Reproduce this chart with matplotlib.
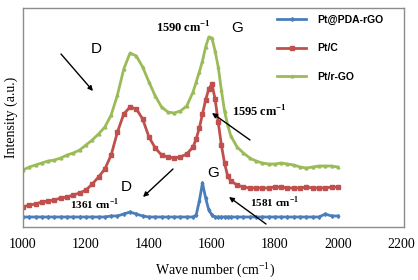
import matplotlib
matplotlib.use("Agg")
import matplotlib.pyplot as plt

plt.rcParams['mathtext.fontset'] = 'custom'
plt.rcParams['mathtext.rm'] = 'Liberation Serif'
plt.rcParams['mathtext.bf'] = 'Liberation Serif:bold'

wavenumber = [1000, 1020, 1040, 1060, 1080, 1100, 1120, 1140, 1160, 1180,
              1200, 1220, 1240, 1260, 1280, 1300, 1320, 1340, 1360, 1380,
              1400, 1420, 1440, 1460, 1480, 1500, 1520, 1540, 1550, 1560,
              1570, 1580, 1590, 1600, 1610, 1620, 1630, 1640, 1650, 1660,
              1680, 1700, 1720, 1740, 1760, 1780, 1800, 1820, 1840, 1860,
              1880, 1900, 1920, 1940, 1960, 1980, 2000]

pt_pda_rgo = [10, 10, 10, 10, 10, 10, 10, 10, 10, 10,
              10, 10, 10, 10, 11, 11, 13, 15, 13, 11,
              10, 10, 10, 10, 10, 10, 10, 10, 12, 26,
              44, 29, 17, 12, 10, 10, 10, 10, 10, 10,
              10, 10, 10, 10, 10, 10, 10, 10, 10, 10,
              10, 10, 10, 10, 13, 11, 11]

pt_c = [20, 22, 23, 25, 26, 27, 29, 30, 32, 34,
        37, 43, 50, 58, 72, 95, 113, 120, 118, 108,
        90, 79, 72, 70, 69, 70, 73, 80, 88, 99,
        113, 127, 138, 143, 128, 105, 82, 64, 51, 46,
        42, 40, 39, 39, 39, 39, 40, 40, 39, 39,
        39, 40, 39, 39, 39, 40, 40]

pt_rgo = [57, 60, 62, 64, 66, 67, 69, 72, 74, 77,
          82, 87, 93, 100, 112, 132, 158, 174, 171, 160,
          145, 131, 120, 115, 114, 116, 121, 135, 145, 155,
          166, 180, 190, 189, 176, 160, 137, 116, 102, 91,
          80, 74, 69, 66, 64, 63, 63, 64, 63, 62,
          60, 59, 60, 61, 61, 61, 60]

series_labels = ['Pt@PDA-rGO', 'Pt/C', 'Pt/r-GO']
x_ticks = [1000, 1200, 1400, 1600, 1800, 2000, 2200]

c_blue = '#4a7ebb'
c_red = '#c0504d'
c_green = '#9bbb59'

fig = plt.figure(figsize=(4.18, 2.80), dpi=100)
ax = fig.add_axes([23/418, 1-227/280, (404-23)/418, (227-8)/280])

ax.plot(wavenumber, pt_pda_rgo, color=c_blue, lw=2.0, marker='d', ms=2.0,
        label=series_labels[0])
ax.plot(wavenumber, pt_c, color=c_red, lw=2.0, marker='s', ms=2.8,
        label=series_labels[1])
ax.plot(wavenumber, pt_rgo, color=c_green, lw=2.0, marker='^', ms=2.0,
        label=series_labels[2])

ax.set_xlim(1000, 2210)
ax.set_ylim(0, 219)
ax.set_xticks(x_ticks)
ax.set_xticklabels([str(t) for t in x_ticks], fontfamily='Liberation Serif', fontsize=10)
ax.tick_params(axis='x', length=0, pad=8)
ax.set_yticks([])
for s in ax.spines.values():
    s.set_color('#8c8c8c')
    s.set_linewidth(1.0)

fig.text(215/418, 1-270/280, 'Wave number (cm$^{-1}$)', ha='center', va='center',
         fontfamily='Liberation Serif', fontsize=10)
fig.text(11/418, 1-117/280, 'Intensity (a.u.)', ha='center', va='center',
         rotation=90, fontfamily='Liberation Serif', fontsize=10)

def ftext(px, py, s, **kw):
    fig.text(px/418, 1-py/280, s, ha='center', va='center', **kw)

def farrow(x0, y0, x1, y1):
    ax.annotate('', xy=(x1/418, 1-y1/280), xytext=(x0/418, 1-y0/280),
                xycoords='figure fraction', textcoords='figure fraction',
                arrowprops=dict(arrowstyle='-|>', color='black', lw=1.0,
                                mutation_scale=7, shrinkA=0, shrinkB=0))

sans = 'Liberation Sans'
serif_bold = dict(fontfamily='Liberation Serif', fontweight='bold')

ftext(96, 49, 'D', fontfamily=sans, fontsize=11)
farrow(61, 54, 93, 91)
ftext(183, 28, r'1590 cm$^{\mathbf{-1}}$', fontsize=9, **serif_bold)
ftext(237, 28, 'G', fontfamily=sans, fontsize=11)
ftext(259, 112, r'1595 cm$^{\mathbf{-1}}$', fontsize=9, **serif_bold)
farrow(250, 140, 212, 113)
ftext(126, 187, 'D', fontfamily=sans, fontsize=11)
farrow(173, 169, 143, 197)
ftext(95, 204, r'1361 cm$^{\mathbf{-1}}$', fontsize=8, **serif_bold)
ftext(213, 173, 'G', fontfamily=sans, fontsize=11)
ftext(275, 202, r'1581 cm$^{\mathbf{-1}}$', fontsize=8, **serif_bold)
farrow(266, 224, 229, 197)

leg = ax.legend(loc='upper left', bbox_to_anchor=(277/418, 1-15/280),
                bbox_transform=fig.transFigure, frameon=False,
                prop={'family': sans, 'weight': 'bold', 'size': 7.5},
                handlelength=2.8, handletextpad=1.1, labelspacing=1.75,
                borderpad=0, borderaxespad=0, markerscale=1.0)

fig.savefig('out.png', dpi=100)
